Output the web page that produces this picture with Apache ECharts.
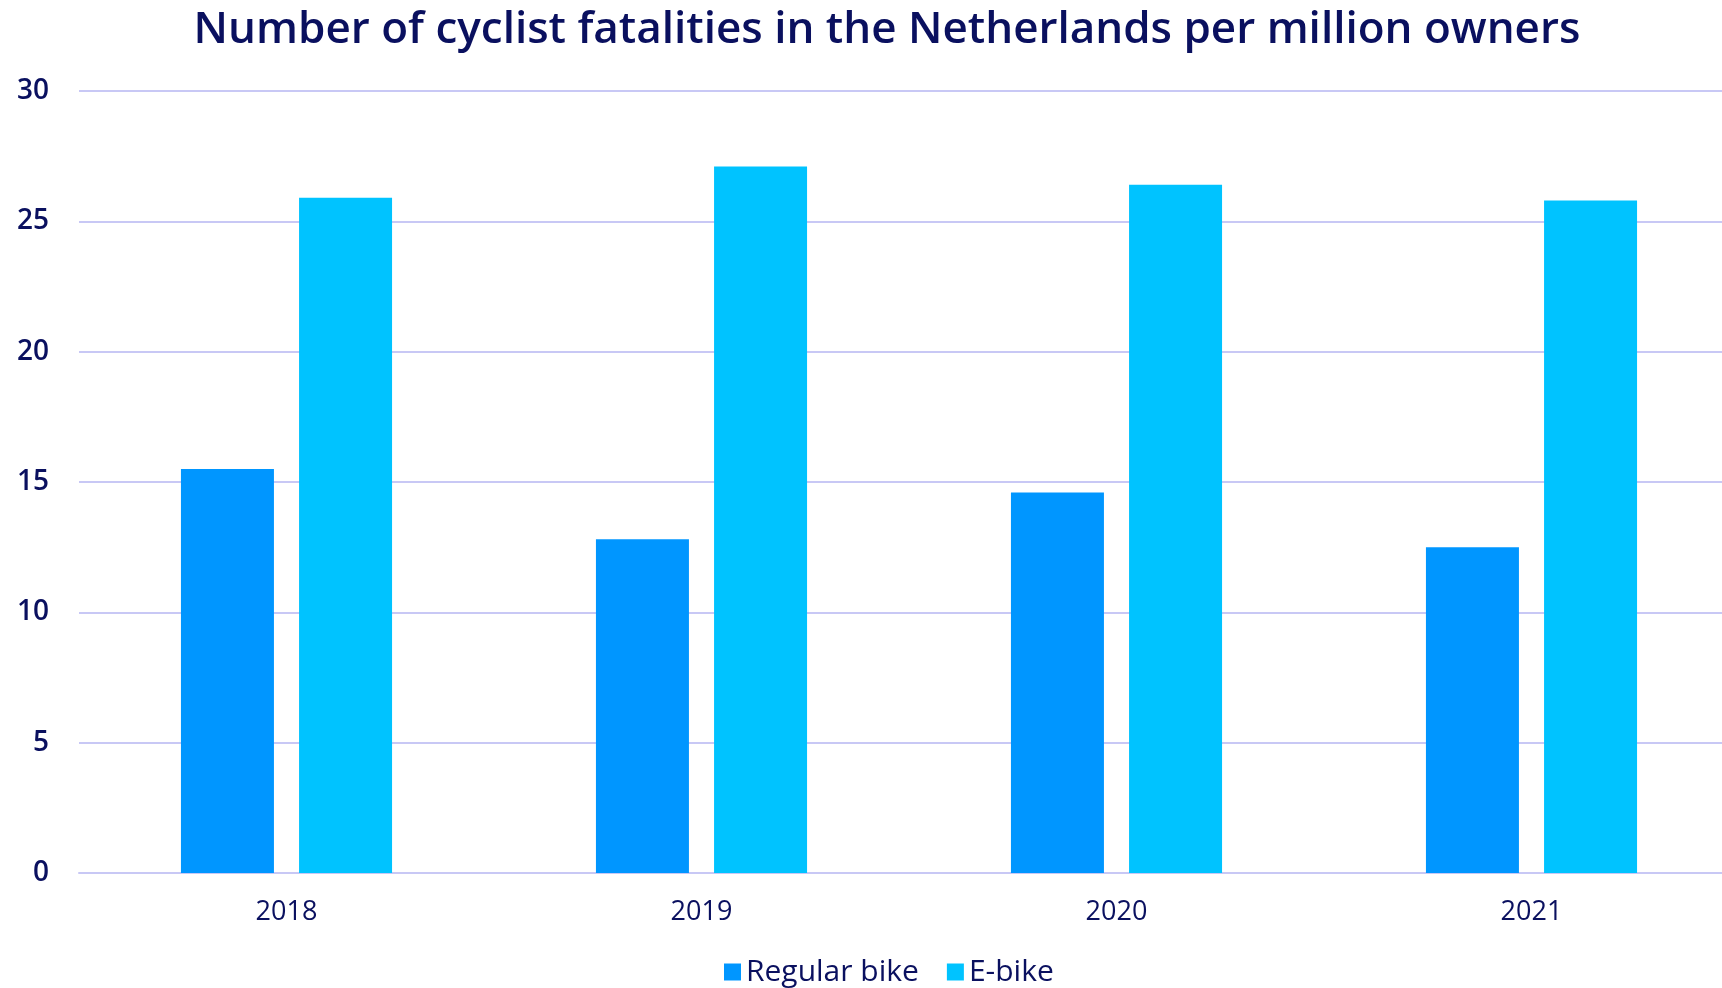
<!DOCTYPE html>
<html><head><meta charset="utf-8">
<script src="https://cdn.jsdelivr.net/npm/echarts@6/dist/echarts.min.js"></script>
<style>html,body{margin:0;padding:0;background:#fff}#c{width:1722px;height:988px}</style>
</head><body><div id="c"></div>
<script>
const categories = ['2018', '2019', '2020', '2021'];
const regularBike = [15.5, 12.8, 14.6, 12.5];
const eBike = [25.9, 27.1, 26.4, 25.8];
const seriesNames = ['Regular bike', 'E-bike'];

const navy = '#0a105f';
const font = 'Open Sans';
const chart = echarts.init(document.getElementById('c'));
chart.setOption({
  animation: false,
  backgroundColor: '#fff',
  title: {
    text: 'Number of cyclist fatalities in the Netherlands per million owners',
    left: 882, top: 3, textAlign: 'center',
    textStyle: { color: navy, fontFamily: font, fontWeight: 600, fontSize: 44 }
  },
  legend: {
    data: seriesNames, top: 952, left: 719,
    itemWidth: 17, itemHeight: 17, itemGap: 28, icon: 'rect',
    textStyle: { color: navy, fontFamily: font, fontSize: 30, fontWeight: 500 }
  },
  grid: { left: 79, width: 1660, top: 91, bottom: 115, outerBoundsMode: 'none', containLabel: false },
  xAxis: {
    type: 'category', data: categories,
    axisLine: { show: true, lineStyle: { color: '#c8c8f5', width: 2 } },
    axisTick: { show: false },
    axisLabel: { color: navy, fontFamily: font, fontSize: 27, fontWeight: 'normal', margin: 26 }
  },
  yAxis: {
    type: 'value', min: 0, max: 30, interval: 5,
    axisLine: { show: false }, axisTick: { show: false },
    splitLine: { lineStyle: { color: '#c8c8f5', width: 2 } },
    axisLabel: { color: navy, fontFamily: font, fontSize: 28, fontWeight: 600, margin: 30 }
  },
  series: [
    { name: seriesNames[0], type: 'bar', data: regularBike, barWidth: 93, barGap: '27%',
      itemStyle: { color: '#0096ff' } },
    { name: seriesNames[1], type: 'bar', data: eBike, barWidth: 93,
      itemStyle: { color: '#00c3ff' } }
  ]
});
</script></body></html>
